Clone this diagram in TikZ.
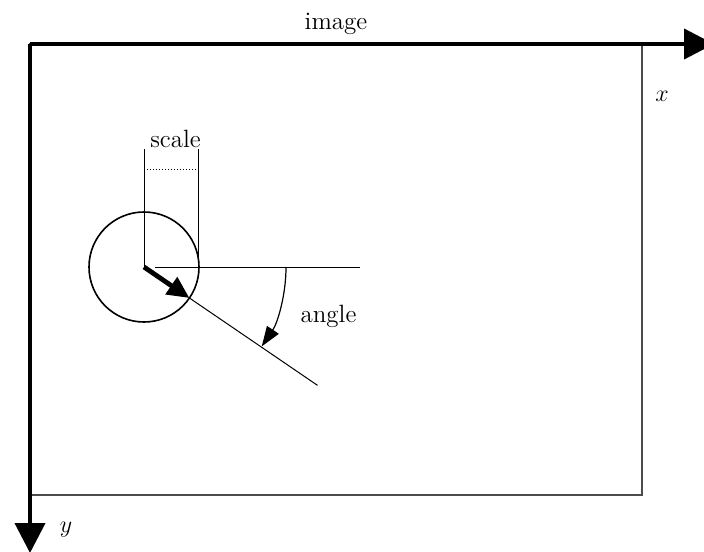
\documentclass[tikz,border=0pt]{standalone}
\usetikzlibrary{arrows.meta,calc}
\begin{document}
\begin{tikzpicture}[x=0.5pt,y=-0.5pt,
  axis/.style={line width=2pt,-{Triangle[length=15pt,width=15pt]}},
  frame/.style={draw=black!70,line width=0.6pt},
  thinline/.style={line width=0.5pt},
  lbl/.style={font=\fontsize{12.5}{15}\selectfont,inner sep=0pt}]
\useasboundingbox (0,0) rectangle (704,551);
% image frame
\coordinate (O) at (30,44);
\coordinate (BR) at (642,495);
\draw[frame] (O) rectangle (BR);
% axes
\coordinate (xend) at (714,44);
\coordinate (yend) at (30,553);
\draw[axis] (O) -- (xend);
\draw[axis] (O) -- (yend);
\node[lbl,anchor=base] (image) at (336,30) {image};
\node[lbl,anchor=base] (xl) at (662,101) {$x$};
\node[lbl,anchor=base] (yl) at (66,532) {$y$};
% feature circle
\coordinate (C) at (144,267);
\node[circle,draw,line width=0.8pt,minimum size=55pt,inner sep=0pt] (circ) at (C) {};
% scale marks
\coordinate (s1) at (144,149);
\coordinate (s2) at (198,149);
\coordinate (s3) at (198,257);
\coordinate (d1) at (144,169);
\coordinate (d2) at (198,169);
\draw[thinline] (C) -- (s1);
\draw[thinline] (s2) -- (s3);
\draw[thinline,densely dotted] (d1) -- (d2);
\node[lbl,anchor=base] (scale) at (175.5,147) {scale};
% orientation
\coordinate (h1) at (155,267);
\coordinate (h2) at (360,267);
\draw[thinline] (h1) -- (h2);
\coordinate (g1) at ($(C)+(34.3:55)$);
\coordinate (g2) at ($(C)+(34.3:210)$);
\draw[thinline] (g1) -- (g2);
\draw[line width=2.4pt,-{Triangle[length=11pt,width=10pt]}] (C) -- (g1);
\coordinate (a0) at ($(C)+(0:142)$);
\draw[line width=0.6pt,-{Triangle[length=10pt,width=7pt]}] (a0) arc[start angle=0,end angle=34,radius=142];
\node[lbl,anchor=base] (angle) at (328.5,322) {angle};
\end{tikzpicture}
\end{document}
